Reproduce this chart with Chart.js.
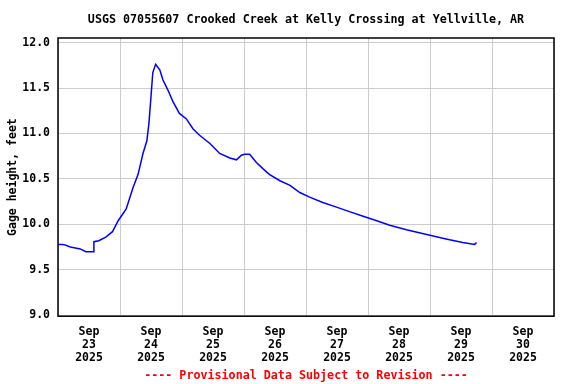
<!DOCTYPE html>
<html>
<head>
<meta charset="utf-8">
<script src="https://cdn.jsdelivr.net/npm/chart.js@4/dist/chart.umd.min.js"></script>
<style>
  html, body { margin: 0; padding: 0; background: #fff; }
  #wrap { width: 576px; height: 384px; }
</style>
</head>
<body>
<div id="wrap"><canvas id="gageChart" width="576" height="384"></canvas></div>
<script>
// hours since Sep 23 2025 00:00
var hours = [0, 1.7, 3.1, 4.8, 6.7, 8.6, 10.8, 12.5, 13.7, 13.9, 15.8, 18.5, 21.1, 23.3,
  26.4, 29.0, 31.0, 32.9, 34.4, 35.2, 35.9, 36.7, 37.8, 39.4, 40.6, 42.5, 44.5, 47.0,
  49.7, 52.3, 54.8, 58.8, 62.6, 66.5, 69.1, 71.0, 72.2, 74.2, 76.8, 79.4, 81.8, 85.9,
  89.8, 93.6, 97.4, 102.5, 107.8, 112.8, 118.1, 123.4, 128.4, 134.9, 139.4, 144.0,
  150.2, 156.7, 161.3, 162.0];
// gage height, feet
var gage = [9.78, 9.78, 9.77, 9.75, 9.74, 9.73, 9.70, 9.70, 9.70, 9.81, 9.82, 9.86, 9.92, 10.04,
  10.17, 10.40, 10.55, 10.78, 10.92, 11.11, 11.37, 11.67, 11.76, 11.70, 11.59, 11.48, 11.35, 11.22,
  11.16, 11.05, 10.98, 10.89, 10.78, 10.73, 10.71, 10.76, 10.77, 10.77, 10.68, 10.61, 10.55, 10.48,
  10.43, 10.35, 10.30, 10.24, 10.19, 10.14, 10.09, 10.04, 9.99, 9.94, 9.91, 9.88,
  9.84, 9.80, 9.78, 9.80];

var dayCenters = [12, 36, 60, 84, 108, 132, 156, 180];
var dayLabels = [
  ["Sep", "23", "2025"], ["Sep", "24", "2025"], ["Sep", "25", "2025"], ["Sep", "26", "2025"],
  ["Sep", "27", "2025"], ["Sep", "28", "2025"], ["Sep", "29", "2025"], ["Sep", "30", "2025"]
];
var yTicks = [9.0, 9.5, 10.0, 10.5, 11.0, 11.5, 12.0];

var monoFont = "'DejaVu Sans Mono', monospace";

var points = [];
for (var i in hours) {
  points.push({ x: hours[i], y: gage[i] });
}

// black frame around the plot
var frame = {
  id: "frame",
  afterDraw: function (chart) {
    var a = chart.chartArea;
    var c = chart.ctx;
    c.save();
    c.strokeStyle = "#000";
    c.lineWidth = 1.5;
    c.strokeRect(a.left, a.top, a.right - a.left, a.bottom - a.top);
    c.restore();
  }
};

var ctx = document.getElementById("gageChart");

var gageChart = new Chart(ctx, {
  type: "line",
  data: {
    datasets: [
      {
        label: "Gage height",
        data: points,
        borderColor: "#0000ff",
        borderWidth: 1.5,
        pointRadius: 0,
        tension: 0,
        fill: false,
      },
    ],
  },
  options: {
    responsive: false,
    animation: false,
    layout: { padding: { left: 0, right: 22, top: 0, bottom: 0 } },
    plugins: {
      legend: { display: false },
      tooltip: { enabled: false },
      title: {
        display: true,
        text: "USGS 07055607 Crooked Creek at Kelly Crossing at Yellville, AR",
        fullSize: false,
        color: "#000",
        font: { family: monoFont, size: 11.7, weight: "bold", lineHeight: 1.2 },
        padding: { top: 13, bottom: 10.96 },
      },
      subtitle: {
        display: true,
        position: "bottom",
        text: "---- Provisional Data Subject to Revision ----",
        fullSize: false,
        color: "#ff0000",
        font: { family: monoFont, size: 11.7, weight: "bold", lineHeight: 1.2 },
        padding: { top: 4.8, bottom: 0.96 },
      },
    },
    scales: {
      x: {
        type: "linear",
        min: 0,
        max: 192,
        afterBuildTicks: function (axis) {
          axis.ticks = dayCenters.map(function (v) { return { value: v }; });
        },
        afterFit: function (axis) {
          axis.height = 48;
        },
        grid: { color: "#cccccc", lineWidth: 1, offset: true, drawTicks: false },
        border: { display: false },
        ticks: {
          color: "#000",
          padding: 9.5,
          maxRotation: 0,
          autoSkip: false,
          font: { family: monoFont, size: 11.5, weight: "bold", lineHeight: 1.13 },
          callback: function (value) {
            var k = dayCenters.indexOf(value);
            return k >= 0 ? dayLabels[k] : "";
          },
        },
      },
      y: {
        min: 8.99,
        max: 12.05,
        afterBuildTicks: function (axis) {
          axis.ticks = yTicks.map(function (v) { return { value: v }; });
        },
        afterFit: function (axis) {
          axis.width = 58;
        },
        grid: { color: "#cccccc", lineWidth: 1, drawTicks: false },
        border: { display: false },
        title: {
          display: true,
          text: "Gage height, feet",
          color: "#000",
          font: { family: monoFont, size: 11.5, weight: "bold" },
          padding: { top: 6, bottom: 4 },
        },
        ticks: {
          color: "#000",
          padding: 8,
          font: { family: monoFont, size: 11.5, weight: "bold" },
          callback: function (value) {
            return value.toFixed(1);
          },
        },
      },
    },
  },
  plugins: [frame],
});
</script>
</body>
</html>
